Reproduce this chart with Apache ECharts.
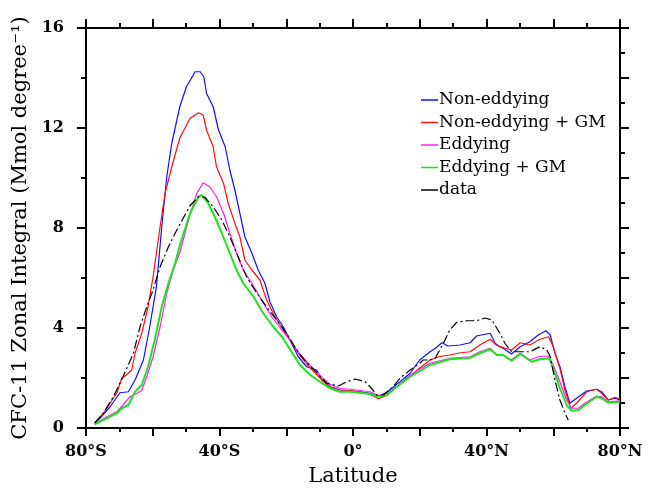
<!DOCTYPE html>
<html>
<head>
<meta charset="utf-8">
<script src="https://cdn.jsdelivr.net/npm/echarts@6.0.0/dist/echarts.min.js"></script>
<style>
html, body { margin: 0; padding: 0; background: #fff; }
#chart { width: 653px; height: 490px; }
</style>
</head>
<body>
<div id="chart"></div>
<script>
// legend / series names and colours
var seriesNames = ["Non-eddying", "Non-eddying + GM", "Eddying", "Eddying + GM", "data"];
var seriesColors = ["#1010ff", "#ff1010", "#ff20ff", "#20e020", "#000000"];

// x ticks (latitude)
var xTickValues = [-80, -40, 0, 40, 80];
var xTickLabels = ["80°S", "40°S", "0°", "40°N", "80°N"];

// Non-eddying
var nonEddyLat = [-77.4, -75.8, -72.8, -69.8, -67.3, -65.3, -62.8, -60.9, -58.9, -57.3, -55.8, -54.3, -51.9, -49.9, -47.3, -45.8, -44.7, -43.9, -41.9, -40.3, -38.3, -36.9, -35.4, -33.9, -32.4, -30.3, -28.4, -26.4, -24.9, -22.9, -20.9, -18.9, -16.4, -13.9, -10.9, -9.4, -6.9, -3.9, -0.9, 2.1, 5.1, 7.6, 10.1, 13.1, 14.1, 17.1, 20.0, 23.1, 25.1, 26.6, 28.5, 32.1, 35.1, 37.0, 39.6, 41.1, 42.6, 44.0, 45.0, 47.5, 50.1, 53.0, 55.5, 57.8, 59.1, 60.5, 62.0, 63.5, 65.0, 67.6, 70.0, 73.0, 74.5, 76.5, 78.5, 80];
var nonEddyVal = [0.2, 0.39, 0.85, 1.41, 1.45, 1.92, 2.72, 4.05, 5.65, 8.05, 10.05, 11.39, 12.85, 13.65, 14.25, 14.25, 14.05, 13.39, 12.85, 11.92, 11.25, 10.32, 9.52, 8.59, 7.65, 6.99, 6.32, 5.79, 5.05, 4.45, 4.05, 3.52, 2.85, 2.45, 2.32, 1.92, 1.65, 1.52, 1.48, 1.45, 1.39, 1.28, 1.42, 1.75, 1.85, 2.19, 2.72, 3.05, 3.23, 3.41, 3.28, 3.32, 3.41, 3.68, 3.75, 3.79, 3.39, 3.25, 3.19, 2.96, 3.25, 3.45, 3.72, 3.89, 3.72, 2.99, 2.45, 1.65, 0.99, 1.25, 1.48, 1.55, 1.45, 1.12, 1.19, 1.12];

// Non-eddying + GM
var nonEddyGmLat = [-77.4, -74.8, -72.8, -70.8, -69.3, -67.9, -66.3, -65.3, -63.3, -61.4, -59.9, -57.8, -56.3, -54.3, -51.9, -48.8, -46.3, -44.9, -43.9, -41.9, -40.9, -38.8, -37.4, -35.4, -33.9, -32.4, -30.3, -27.9, -25.9, -23.4, -20.9, -18.9, -15.9, -12.8, -9.9, -6.9, -3.9, -0.9, 2.1, 5.1, 7.6, 10.1, 13.1, 17.1, 20.0, 23.1, 25.7, 29.0, 31.8, 35.1, 38.0, 41.1, 43.1, 45.5, 47.5, 50.1, 53.0, 56.0, 58.6, 60.0, 62.0, 63.5, 65.2, 67.0, 70.0, 73.0, 74.5, 76.5, 78.5, 80];
var nonEddyGmVal = [0.2, 0.59, 0.99, 1.39, 1.99, 2.12, 2.32, 2.99, 3.79, 4.85, 6.05, 8.05, 9.39, 10.45, 11.6, 12.39, 12.61, 12.52, 11.92, 11.25, 10.45, 9.79, 8.99, 8.19, 7.65, 6.72, 6.32, 5.92, 5.12, 4.45, 3.92, 3.52, 2.9, 2.4, 2.0, 1.65, 1.52, 1.5, 1.45, 1.35, 1.17, 1.3, 1.65, 2.05, 2.4, 2.72, 2.85, 2.92, 3.0, 3.05, 3.32, 3.55, 3.3, 3.2, 3.12, 3.41, 3.32, 3.55, 3.65, 3.25, 2.39, 1.52, 0.79, 0.99, 1.45, 1.55, 1.39, 1.12, 1.23, 1.15];

// Eddying
var eddyLat = [-77.4, -73.8, -70.8, -68.9, -66.8, -65.3, -63.3, -61.8, -59.9, -57.8, -55.8, -53.9, -51.9, -49.3, -46.8, -44.9, -42.9, -40.9, -38.8, -36.9, -34.9, -32.9, -30.3, -27.4, -24.4, -21.3, -18.9, -15.9, -12.8, -9.9, -6.9, -3.9, -0.9, 2.1, 5.1, 7.6, 10.1, 13.1, 17.1, 23.1, 29.0, 35.1, 38.0, 41.1, 43.1, 45.0, 47.5, 50.1, 53.0, 55.5, 58.6, 60.0, 62.0, 64.0, 65.5, 67.6, 69.5, 73.0, 74.5, 76.5, 80];
var eddyVal = [0.15, 0.45, 0.65, 0.92, 1.25, 1.35, 1.5, 2.05, 2.85, 4.05, 5.39, 6.32, 7.0, 8.32, 9.39, 9.81, 9.65, 9.25, 8.59, 7.79, 6.99, 6.32, 5.79, 5.12, 4.45, 3.92, 3.52, 2.95, 2.5, 2.1, 1.75, 1.58, 1.55, 1.5, 1.45, 1.3, 1.38, 1.65, 2.12, 2.59, 2.79, 2.85, 3.05, 3.19, 2.92, 2.92, 2.72, 2.99, 2.72, 2.85, 2.88, 2.52, 1.85, 1.12, 0.79, 0.79, 0.99, 1.28, 1.25, 1.05, 1.09];

// Eddying + GM
var eddyGmLat = [-77.4, -73.8, -70.8, -69.3, -67.3, -65.3, -63.3, -61.4, -59.4, -57.3, -55.3, -53.3, -51.9, -48.8, -46.3, -45.3, -43.4, -41.4, -39.3, -36.9, -34.9, -32.9, -29.8, -26.9, -23.9, -21.3, -18.9, -15.9, -12.8, -9.9, -6.9, -3.9, -0.9, 2.1, 5.1, 7.6, 10.1, 13.1, 17.1, 23.1, 29.0, 35.1, 38.0, 41.1, 43.1, 45.0, 47.5, 50.1, 53.5, 56.0, 58.8, 60.5, 62.0, 64.0, 65.5, 67.6, 69.5, 73.0, 74.5, 76.5, 80];
var eddyGmVal = [0.15, 0.39, 0.59, 0.79, 0.92, 1.45, 1.72, 2.45, 3.52, 4.85, 5.79, 6.59, 7.3, 8.59, 9.25, 9.32, 8.99, 8.45, 7.79, 6.99, 6.32, 5.79, 5.25, 4.59, 4.05, 3.65, 3.15, 2.52, 2.12, 1.85, 1.59, 1.45, 1.45, 1.41, 1.36, 1.25, 1.32, 1.65, 2.05, 2.52, 2.75, 2.81, 2.99, 3.15, 2.92, 2.92, 2.69, 2.96, 2.65, 2.75, 2.79, 2.19, 1.59, 0.92, 0.69, 0.72, 0.92, 1.25, 1.19, 1.01, 1.05];

// observations
var obsLat = [-77.4, -74.8, -71.8, -68.9, -65.8, -63.8, -61.8, -59.9, -57.8, -55.3, -52.8, -48.8, -46.3, -44.4, -41.9, -39.3, -36.9, -34.4, -31.9, -28.8, -25.9, -22.9, -19.9, -16.8, -13.8, -10.7, -7.9, -4.4, -1.9, 0.6, 3.6, 5.1, 7.1, 9.1, 12.0, 14.1, 17.1, 20.0, 21.0, 23.1, 24.6, 27.1, 29.0, 31.1, 34.1, 37.0, 39.6, 41.6, 43.1, 44.0, 45.5, 47.5, 50.1, 53.0, 56.0, 58.1, 59.1, 60.5, 62.0, 63.5, 64.5];
var obsVal = [0.2, 0.59, 1.25, 2.05, 2.99, 4.05, 4.85, 5.52, 6.45, 7.25, 7.92, 8.9, 9.25, 9.23, 8.85, 8.32, 7.65, 6.85, 6.05, 5.39, 4.85, 4.32, 3.79, 3.1, 2.6, 2.2, 1.79, 1.68, 1.85, 1.96, 1.85, 1.65, 1.32, 1.32, 1.65, 1.99, 2.32, 2.59, 2.72, 2.72, 2.79, 3.39, 3.92, 4.23, 4.29, 4.29, 4.4, 4.32, 3.99, 3.79, 3.39, 3.05, 3.05, 3.05, 3.25, 3.12, 2.85, 1.92, 1.12, 0.59, 0.32];

function pairs(lat, val) {
    return lat.map(function (x, i) { return [x, val[i]]; });
}

var FONT = "DejaVu Serif";
var allLat = [nonEddyLat, nonEddyGmLat, eddyLat, eddyGmLat, obsLat];
var allVal = [nonEddyVal, nonEddyGmVal, eddyVal, eddyGmVal, obsVal];
var widths = [1.2, 1.2, 1.2, 2, 1.2];

var series = seriesNames.map(function (name, i) {
    return {
        name: name,
        type: "line",
        data: pairs(allLat[i], allVal[i]),
        showSymbol: false,
        symbol: "none",
        color: seriesColors[i],
        lineStyle: {
            color: seriesColors[i],
            width: widths[i],
            type: i == 4 ? [9, 3, 2, 3] : "solid"
        },
        z: 2 + i
    };
});

var axisLine = { show: true, onZero: false, lineStyle: { color: "#000", width: 2 } };

var chart = echarts.init(document.getElementById("chart"), null, { renderer: "canvas" });
chart.setOption({
    animation: false,
    backgroundColor: "#fff",
    grid: { left: 86, right: 33, top: 28, bottom: 62, containLabel: false, outerBoundsMode: "none" },
    legend: {
        orient: "vertical",
        left: 416,
        top: 86,
        icon: "rect",
        itemWidth: 17,
        itemHeight: 1.5,
        itemGap: 4.5,
        data: seriesNames,
        textStyle: { fontFamily: FONT, fontSize: 17, lineHeight: 18, color: "#000", padding: [0, 0, 0, -4] }
    },
    xAxis: [{
        type: "value",
        position: "bottom",
        min: -80, max: 80, interval: 20,
        name: "Latitude",
        nameLocation: "middle",
        nameGap: 38,
        nameTextStyle: { fontFamily: FONT, fontSize: 21, color: "#000" },
        axisLine: axisLine,
        axisTick: { show: true, length: 8, lineStyle: { color: "#000", width: 2 } },
        minorTick: { show: true, splitNumber: 2, length: 4, lineStyle: { color: "#000", width: 2 } },
        splitLine: { show: false },
        axisLabel: {
            margin: 16,
            fontFamily: FONT, fontSize: 16, fontWeight: "bold", color: "#000",
            formatter: function (v) {
                var k = xTickValues.indexOf(v);
                return k < 0 ? "" : xTickLabels[k];
            }
        }
    }, {
        type: "value",
        position: "top",
        min: -80, max: 80, interval: 20,
        axisLine: axisLine,
        axisTick: { show: true, length: 9, lineStyle: { color: "#000", width: 2 } },
        minorTick: { show: true, splitNumber: 2, length: 5, lineStyle: { color: "#000", width: 2 } },
        splitLine: { show: false },
        axisLabel: { show: false }
    }],
    yAxis: [{
        type: "value",
        position: "left",
        min: 0, max: 16, interval: 4,
        name: "CFC-11 Zonal Integral (Mmol degree⁻¹)",
        nameLocation: "middle",
        nameGap: 42,
        nameTextStyle: { fontFamily: FONT, fontSize: 21, color: "#000" },
        axisLine: axisLine,
        axisTick: { show: true, length: 9, lineStyle: { color: "#000", width: 2 } },
        minorTick: { show: true, splitNumber: 2, length: 5, lineStyle: { color: "#000", width: 2 } },
        splitLine: { show: false },
        axisLabel: { margin: 22, fontFamily: FONT, fontSize: 16, fontWeight: "bold", color: "#000" }
    }, {
        type: "value",
        position: "right",
        min: 0, max: 16, interval: 2,
        axisLine: axisLine,
        axisTick: { show: true, length: 9, lineStyle: { color: "#000", width: 2 } },
        minorTick: { show: true, splitNumber: 2, length: 5, lineStyle: { color: "#000", width: 2 } },
        splitLine: { show: false },
        axisLabel: { show: false }
    }],
    series: series
});
</script>
</body>
</html>
